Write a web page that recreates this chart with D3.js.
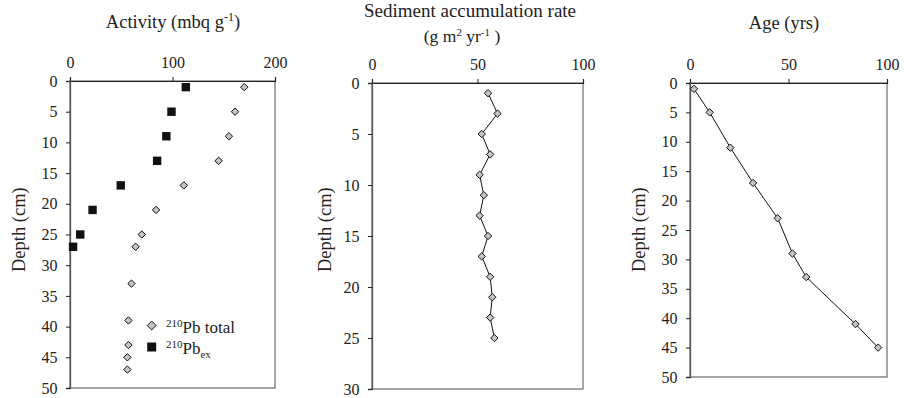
<!DOCTYPE html>
<html><head><meta charset="utf-8">
<script src="https://cdn.jsdelivr.net/npm/d3@7"></script>
<style>
html,body{margin:0;padding:0;background:#fff;}
svg{display:block;font-family:"Liberation Serif","Times New Roman",serif;}
</style></head>
<body>
<svg id="c" width="913" height="398"></svg>
<script>
// ---- Data ----
const depthTotal = [1,5,9,13,17,21,25,27,33,39,43,45,47];
const pbTotal    = [170,161,155,145,111,84,70,64,60,57,57,56,56];
const depthEx    = [1,5,9,13,17,21,25,27];
const pbEx       = [113,99,94,85,49.5,22,10,3];

const sarDepth = [1,3,5,7,9,11,13,15,17,19,21,23,25];
const sarValue = [55,59.5,52,56,51,53,51,55,52,56,57,56,58];

const ageDepth = [1,5,11,17,23,29,33,41,45];
const ageValue = [2,10,20.5,32,44.5,52,59,84,95.5];

const xTicks1 = [0,100,200];
const xTicks23 = [0,50,100];

// ---- Drawing ----
const svg = d3.select("#c");
const font = '"Liberation Serif","Times New Roman",serif';

function styleAxisText(sel){
  sel.attr("font-family", null).attr("font-size", null);
  sel.selectAll("text").style("font-family",font).style("font-size","16px").attr("fill","#222");
}

function panel(cfg){
  const g = svg.append("g");
  const x = d3.scaleLinear().domain(cfg.xDomain).range([cfg.x0, cfg.x1]);
  const y = d3.scaleLinear().domain(cfg.yDomain).range([cfg.y0, cfg.y1]);
  g.append("rect").attr("x",cfg.x0).attr("y",cfg.y0)
    .attr("width",cfg.x1-cfg.x0).attr("height",cfg.y1-cfg.y0)
    .attr("fill","none").attr("stroke","#777").attr("stroke-width",1.3);
  const ax = g.append("g").attr("transform",`translate(0,${cfg.y0})`)
    .call(d3.axisTop(x).tickValues(cfg.xTicks).tickSize(4).tickPadding(9).tickFormat(d3.format("d")));
  styleAxisText(ax);
  ax.select(".domain").attr("stroke","#222").attr("stroke-width",1.2);
  ax.selectAll(".tick line").attr("stroke","#222");
  const ay = g.append("g").attr("transform",`translate(${cfg.x0},0)`)
    .call(d3.axisLeft(y).tickValues(d3.range(cfg.yDomain[0],cfg.yDomain[1]+1,5)).tickSize(4).tickPadding(8.5).tickFormat(d3.format("d")));
  styleAxisText(ay);
  ay.select(".domain").attr("stroke","#555").attr("stroke-width",1.3);
  ay.selectAll(".tick line").attr("stroke","#222");
  g.append("text").attr("transform",`translate(${cfg.ylabX},272) rotate(-90)`)
    .attr("text-anchor","start")
    .style("font-family",font).style("font-size","18.5px").attr("fill","#222").text("Depth (cm)");
  return {g,x,y};
}

const diamondPath = d3.symbol(d3.symbolDiamond2, 35)();
function diamonds(p, xs, ys){
  p.g.append("g").selectAll("path").data(xs).join("path")
    .attr("d", diamondPath)
    .attr("transform",(d,i)=>`translate(${p.x(d)},${p.y(ys[i])})`)
    .attr("fill","#c4c4c4").attr("stroke","#111").attr("stroke-width",1);
}
function lineThrough(p, xs, ys){
  p.g.append("path").datum(xs.map((d,i)=>[d,ys[i]]))
    .attr("d", d3.line().x(d=>p.x(d[0])).y(d=>p.y(d[1])))
    .attr("fill","none").attr("stroke","#111").attr("stroke-width",1);
}

// Panel 1
const p1 = panel({x0:70,x1:275,y0:81,y1:388,xDomain:[0,200],yDomain:[0,50],xTicks:xTicks1,ylabX:25});
diamonds(p1, pbTotal, depthTotal);
p1.g.append("g").selectAll("rect").data(pbEx).join("rect")
  .attr("x",d=>p1.x(d)-4.2).attr("y",(d,i)=>p1.y(depthEx[i])-4.2)
  .attr("width",8.4).attr("height",8.4).attr("fill","#111");
const t1 = svg.append("text").attr("x",173).attr("y",28).attr("text-anchor","middle")
  .style("font-family",font).style("font-size","18.5px").attr("fill","#222");
t1.append("tspan").text("Activity (mbq g");
t1.append("tspan").attr("dy","-7").style("font-size","12px").text("-1");
t1.append("tspan").attr("dy","7").text(")");
// legend
svg.append("path").attr("d", d3.symbol(d3.symbolDiamond2, 50)())
  .attr("transform","translate(151.7,325.5)").attr("fill","#c4c4c4").attr("stroke","#111");
svg.append("rect").attr("x",147.2).attr("y",342.5).attr("width",9).attr("height",9).attr("fill","#111");
const l1 = svg.append("text").attr("x",166).attr("y",333).style("font-family",font).style("font-size","17px").attr("fill","#222");
l1.append("tspan").attr("dy","-6").style("font-size","11px").text("210");
l1.append("tspan").attr("dy","6").text("Pb total");
const l2 = svg.append("text").attr("x",166).attr("y",354).style("font-family",font).style("font-size","17px").attr("fill","#222");
l2.append("tspan").attr("dy","-6").style("font-size","11px").text("210");
l2.append("tspan").attr("dy","6").text("Pb");
l2.append("tspan").attr("dy","4").style("font-size","11px").text("ex");

// Panel 2
const p2 = panel({x0:372,x1:583,y0:83,y1:389,xDomain:[0,100],yDomain:[0,30],xTicks:xTicks23,ylabX:331});
lineThrough(p2, sarValue, sarDepth);
diamonds(p2, sarValue, sarDepth);
svg.append("text").attr("x",470).attr("y",17).attr("text-anchor","middle")
  .style("font-family",font).style("font-size","19px").attr("fill","#222").text("Sediment accumulation rate");
const t2 = svg.append("text").attr("x",462).attr("y",42).attr("text-anchor","middle")
  .style("font-family",font).style("font-size","17.5px").attr("fill","#222");
t2.append("tspan").text("(g m");
t2.append("tspan").attr("dy","-6").style("font-size","11px").text("2");
t2.append("tspan").attr("dy","6").text(" yr");
t2.append("tspan").attr("dy","-6").style("font-size","11px").text("-1");
t2.append("tspan").attr("dy","6").text(" )");

// Panel 3
const p3 = panel({x0:690,x1:887,y0:83,y1:377,xDomain:[0,100],yDomain:[0,50],xTicks:xTicks23,ylabX:645});
lineThrough(p3, ageValue, ageDepth);
diamonds(p3, ageValue, ageDepth);
svg.append("text").attr("x",784).attr("y",29).attr("text-anchor","middle")
  .style("font-family",font).style("font-size","18.5px").attr("fill","#222").text("Age (yrs)");
</script>
</body></html>
